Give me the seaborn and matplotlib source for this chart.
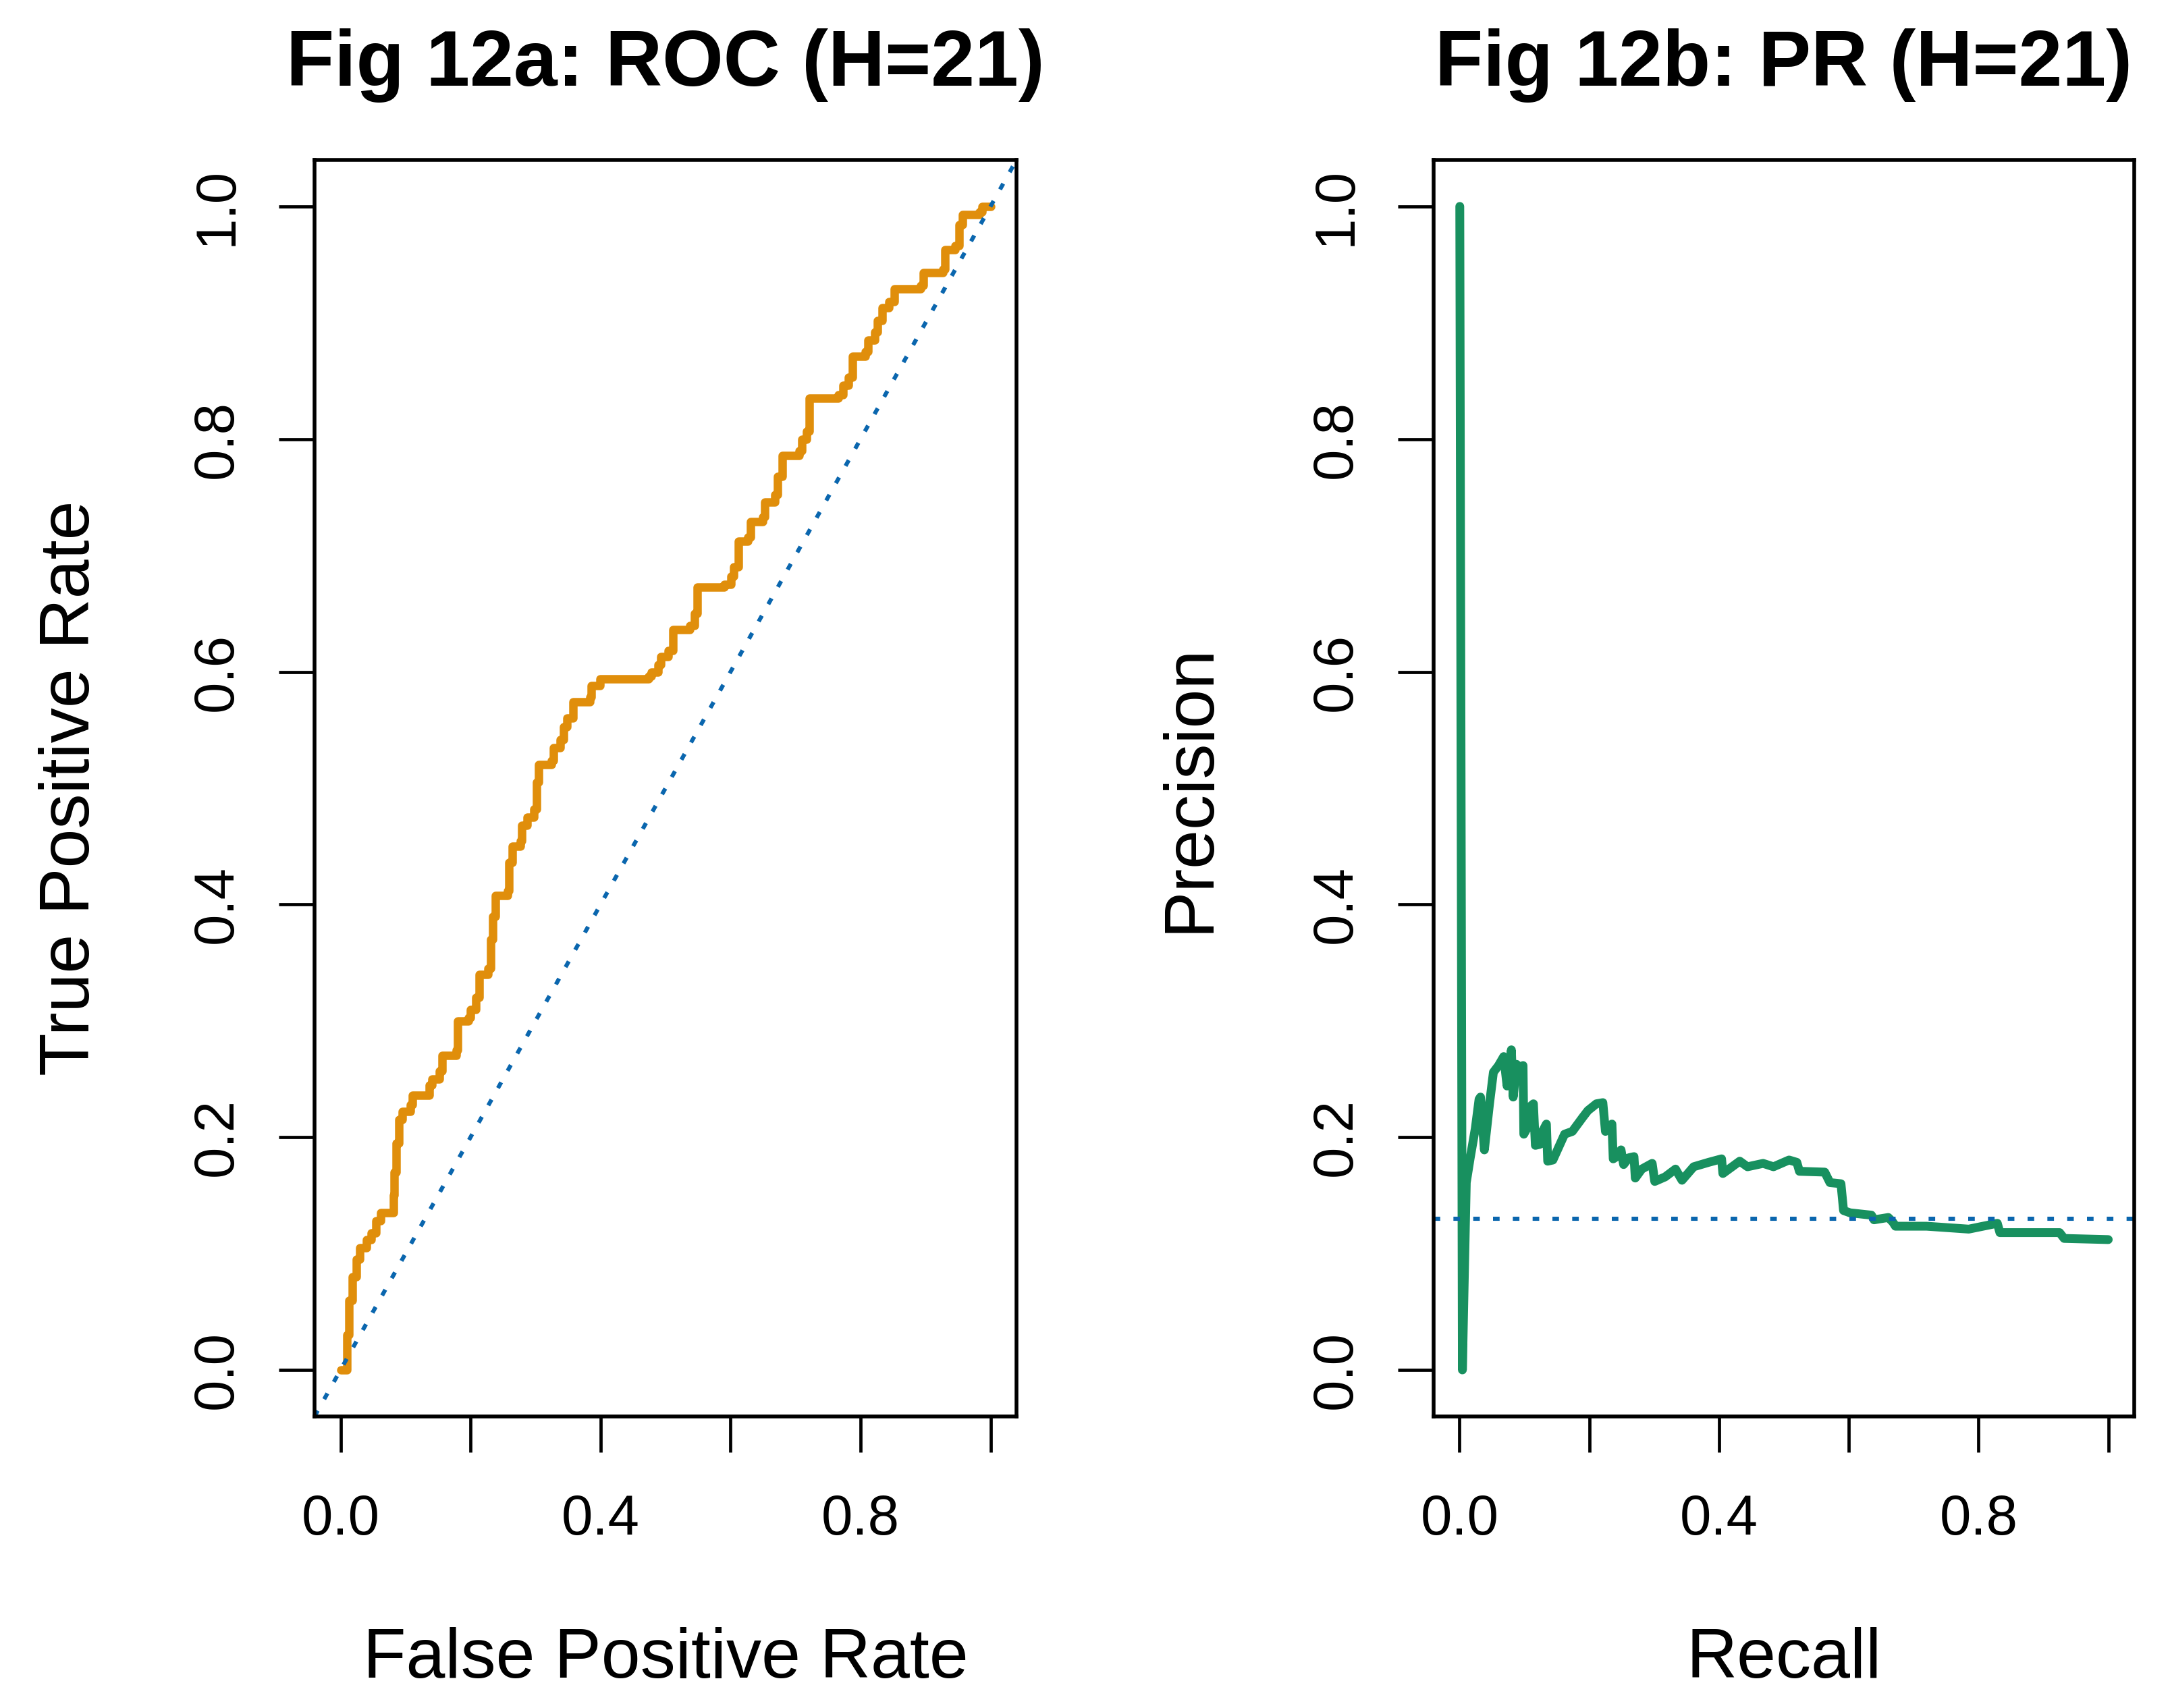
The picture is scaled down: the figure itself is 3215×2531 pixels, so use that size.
import pandas as pd
import matplotlib
matplotlib.use("Agg")
import matplotlib.pyplot as plt
import seaborn as sns

# ROC curve (step corners): level tpr starts at fpr
fpr = [0.000, 0.010, 0.013, 0.018, 0.024, 0.030, 0.040, 0.047, 0.055, 0.062,
       0.081, 0.083, 0.086, 0.090, 0.095, 0.107, 0.111, 0.137, 0.141, 0.152,
       0.156, 0.178, 0.180, 0.197, 0.200, 0.208, 0.213, 0.227, 0.231, 0.234,
       0.238, 0.257, 0.259, 0.264, 0.277, 0.279, 0.287, 0.298, 0.302, 0.305,
       0.324, 0.328, 0.338, 0.343, 0.348, 0.358, 0.384, 0.386, 0.399, 0.474,
       0.478, 0.489, 0.493, 0.504, 0.511, 0.537, 0.545, 0.549, 0.590, 0.601,
       0.605, 0.612, 0.627, 0.631, 0.650, 0.653, 0.668, 0.672, 0.680, 0.706,
       0.710, 0.717, 0.721, 0.766, 0.773, 0.781, 0.788, 0.807, 0.811, 0.822,
       0.826, 0.833, 0.844, 0.852, 0.893, 0.897, 0.927, 0.930, 0.945, 0.952,
       0.957, 0.983, 0.987, 1.000]
tpr = [0.000, 0.030, 0.060, 0.080, 0.095, 0.105, 0.112, 0.118, 0.128, 0.135,
       0.150, 0.170, 0.195, 0.215, 0.222, 0.228, 0.236, 0.245, 0.250, 0.257,
       0.270, 0.275, 0.300, 0.303, 0.310, 0.320, 0.340, 0.345, 0.370, 0.390,
       0.408, 0.412, 0.436, 0.450, 0.455, 0.468, 0.475, 0.482, 0.505, 0.520,
       0.524, 0.535, 0.542, 0.553, 0.560, 0.574, 0.578, 0.588, 0.594, 0.596,
       0.600, 0.606, 0.613, 0.618, 0.636, 0.640, 0.650, 0.673, 0.675, 0.682,
       0.690, 0.712, 0.716, 0.729, 0.733, 0.746, 0.752, 0.768, 0.786, 0.790,
       0.800, 0.807, 0.835, 0.838, 0.846, 0.853, 0.871, 0.875, 0.885, 0.892,
       0.902, 0.913, 0.918, 0.929, 0.932, 0.943, 0.946, 0.963, 0.966, 0.984,
       0.993, 0.995, 1.000, 1.000]

# PR curve
recall = [0.0005, 0.0045, 0.0105, 0.0165, 0.0244, 0.0302, 0.0324, 0.0384,
          0.0463, 0.0523, 0.0602, 0.0682, 0.0734, 0.0800, 0.0828, 0.0880,
          0.0933, 0.0980, 0.0992, 0.104, 0.110, 0.114, 0.117, 0.124, 0.128,
          0.134, 0.136, 0.144, 0.162, 0.174, 0.190, 0.198, 0.211, 0.221,
          0.225, 0.231, 0.235, 0.237, 0.245, 0.249, 0.253, 0.261, 0.269,
          0.271, 0.281, 0.297, 0.301, 0.317, 0.333, 0.343, 0.361, 0.384,
          0.404, 0.406, 0.432, 0.444, 0.468, 0.484, 0.508, 0.520, 0.524,
          0.563, 0.571, 0.588, 0.592, 0.602, 0.635, 0.639, 0.661, 0.668,
          0.672, 0.720, 0.785, 0.829, 0.833, 0.925, 0.932, 1.000]
precision = [1.000, 0.000, 0.161, 0.182, 0.2075, 0.2326, 0.2345, 0.1891,
             0.2287, 0.2558, 0.2616, 0.2693, 0.244, 0.2751, 0.2345, 0.2626,
             0.2597, 0.2616, 0.2026, 0.2075, 0.2268, 0.2287, 0.193, 0.1939,
             0.205, 0.2113, 0.1794, 0.1804, 0.2026, 0.205, 0.2171, 0.2229,
             0.2287, 0.2297, 0.205, 0.2094, 0.2113, 0.1814, 0.1843, 0.1891,
             0.1765, 0.1823, 0.1833, 0.1649, 0.1726, 0.1775, 0.162, 0.1659,
             0.1726, 0.163, 0.1746, 0.1784, 0.1814, 0.1688, 0.1794, 0.1746,
             0.1775, 0.1746, 0.1804, 0.1784, 0.1707, 0.170, 0.161, 0.160,
             0.137, 0.135, 0.133, 0.129, 0.131, 0.127, 0.1235, 0.1235, 0.121,
             0.126, 0.118, 0.118, 0.113, 0.112]
baseline = 0.13

ticks_x = [0.0, 0.2, 0.4, 0.6, 0.8, 1.0]
ticklabels_x = ["0.0", "", "0.4", "", "0.8", ""]
ticks_y = [0.0, 0.2, 0.4, 0.6, 0.8, 1.0]
ticklabels_y = ["0.0", "0.2", "0.4", "0.6", "0.8", "1.0"]

orange = "#E08E0B"
green = "#18905F"
blue = "#0A66AE"

sns.set_style("ticks")
plt.rcParams["font.family"] = ["Liberation Sans", "DejaVu Sans"]
plt.rcParams["text.color"] = "black"
plt.rcParams["axes.labelcolor"] = "black"

roc = pd.DataFrame({"fpr": fpr, "tpr": tpr})
pr = pd.DataFrame({"recall": recall, "precision": precision})

fig = plt.figure(figsize=(32.16, 25.31), dpi=100)
ax1 = fig.add_axes([0.1449, 0.1707, 0.3234, 0.7357])
ax2 = fig.add_axes([0.6604, 0.1707, 0.3228, 0.7357])

sns.lineplot(data=roc, x="fpr", y="tpr", ax=ax1, sort=False, estimator=None,
             color=orange, drawstyle="steps-post")
for ln in ax1.get_lines():
    ln.set_linewidth(9.0)
    ln.set_solid_capstyle("round")
    ln.set_solid_joinstyle("round")
ax1.axline((0, 0), (1, 1), color=blue, linewidth=4.4,
           linestyle=(0, (1.6, 3.2)), dash_capstyle="butt")

sns.lineplot(data=pr, x="recall", y="precision", ax=ax2, sort=False,
             estimator=None, color=green)
for ln in ax2.get_lines():
    ln.set_linewidth(9.4)
    ln.set_solid_capstyle("round")
    ln.set_solid_joinstyle("round")
ax2.axhline(baseline, color=blue, linewidth=4.4,
            linestyle=(0, (1.6, 3.2)), dash_capstyle="butt")

panels = [(ax1, "Fig 12a: ROC (H=21)", "False Positive Rate", "True Positive Rate"),
          (ax2, "Fig 12b: PR (H=21)", "Recall", "Precision")]
for ax, title, xlab, ylab in panels:
    ax.set_xlim(-0.04, 1.04)
    ax.set_ylim(-0.04, 1.04)
    ax.set_xticks(ticks_x)
    ax.set_xticklabels(ticklabels_x)
    ax.set_yticks(ticks_y)
    ax.set_yticklabels(ticklabels_y, rotation=90, va="center")
    ax.tick_params(axis="both", direction="out", length=38, width=3.4,
                   labelsize=60, color="black", labelcolor="black")
    ax.tick_params(axis="x", pad=44)
    ax.tick_params(axis="y", pad=38)
    for sp in ax.spines.values():
        sp.set_visible(True)
        sp.set_linewidth(4.0)
        sp.set_color("black")
    ax.set_title(title, fontsize=84, fontweight="bold", pad=79, color="black")
    ax.set_xlabel(xlab, fontsize=75, va="baseline", color="black")
    ax.set_ylabel(ylab, fontsize=75, va="baseline", color="black")
    ax.xaxis.set_label_coords(0.5, -0.208)
    ax.yaxis.set_label_coords(-0.321, 0.5)
    ax.grid(False)

fig.savefig("out.png", dpi=100, facecolor="white")
